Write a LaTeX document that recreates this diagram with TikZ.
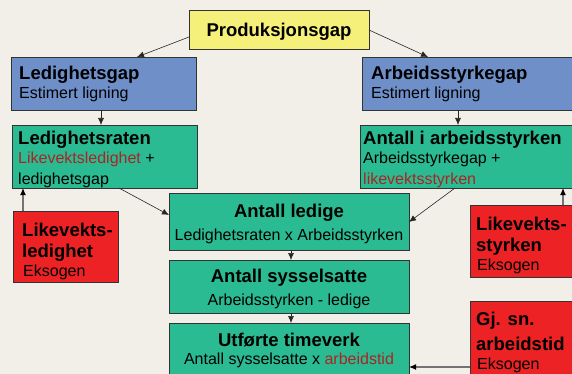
\documentclass[tikz,border=0pt]{standalone}
\usepackage{fontspec}
\setmainfont{Liberation Sans}
\usetikzlibrary{arrows.meta}
\definecolor{bg}{RGB}{242,239,233}
\definecolor{yel}{RGB}{245,240,122}
\definecolor{blu}{RGB}{110,143,200}
\definecolor{grn}{RGB}{42,187,146}
\definecolor{rd}{RGB}{237,34,36}
\definecolor{rtx}{RGB}{170,36,36}
\tikzset{
  box/.style={draw=black!80, line width=0.8pt, anchor=north west, inner sep=0pt, outer sep=0pt},
  ttl/.style={font=\bfseries\fontsize{18.5}{20}\selectfont, inner sep=0pt, anchor=base west},
  sub/.style={font=\fontsize{16}{18}\selectfont, inner sep=0pt, anchor=base west},
  ctl/.style={font=\bfseries\fontsize{18.5}{20}\selectfont, inner sep=0pt, anchor=base},
  csb/.style={font=\fontsize{16}{18}\selectfont, inner sep=0pt, anchor=base},
  arr/.style={-{Latex[length=7pt,width=6pt]}, line width=0.6pt, black!85},
  garr/.style={-{Latex[length=7pt,width=6pt,black]}, line width=1.2pt, black!55}
}
\begin{document}
\begin{tikzpicture}[x=1pt,y=-1pt]
\useasboundingbox (0,0) rectangle (572,374);
\clip (0,0) rectangle (572,374);
\fill[bg] (0,0) rectangle (572,374);
% boxes
\node[box, fill=yel, minimum width=180pt, minimum height=39pt] (prod) at (189,10) {};
\node[box, fill=blu, minimum width=185pt, minimum height=53pt] (lgap) at (11,57) {};
\node[box, fill=blu, minimum width=220pt, minimum height=53pt] (agap) at (362,57) {};
\node[box, fill=grn, minimum width=185pt, minimum height=63pt] (lrate) at (12,125) {};
\node[box, fill=grn, minimum width=220pt, minimum height=63pt] (aant) at (360,125) {};
\node[box, fill=rd, minimum width=105pt, minimum height=71pt] (likl) at (13,211) {};
\node[box, fill=grn, minimum width=240pt, minimum height=57pt] (ledige) at (169,193) {};
\node[box, fill=grn, minimum width=240pt, minimum height=53pt] (syss) at (169,260) {};
\node[box, fill=grn, minimum width=240pt, minimum height=60pt] (time) at (169,323) {};
\node[box, fill=rd, minimum width=110pt, minimum height=72pt] (liks) at (470,205) {};
\node[box, fill=rd, minimum width=110pt, minimum height=80pt] (gjsn) at (470,301) {};
% texts
\node[ctl] (t1) at (279,37) {Produksjonsgap};
\node[ttl] (t2) at (19,80) {Ledighetsgap};
\node[sub] (t3) at (19,99) {Estimert ligning};
\node[ttl] (t4) at (371,80) {Arbeidsstyrkegap};
\node[sub] (t5) at (371,99) {Estimert ligning};
\node[ttl] (t6) at (18,145) {Ledighetsraten};
\node[sub] (t7) at (18,164) {\textcolor{rtx}{Likevektsledighet} +};
\node[sub] (t8) at (18,184) {ledighetsgap};
\node[ttl] (t9) at (363,145) {Antall i arbeidsstyrken};
\node[sub] (t10) at (363,164) {Arbeidsstyrkegap +};
\node[sub] (t11) at (363,184) {\textcolor{rtx}{likevektsstyrken}};
\node[ttl] (t12) at (22,236) {Likevekts-};
\node[ttl] (t13) at (22,257) {ledighet};
\node[sub] (t14) at (23,276) {Eksogen};
\node[ctl] (t15) at (289,217) {Antall ledige};
\node[csb] (t16) at (289,240) {Ledighetsraten x Arbeidsstyrken};
\node[ctl] (t17) at (289,282) {Antall sysselsatte};
\node[csb] (t18) at (289,305) {Arbeidsstyrken - ledige};
\node[ctl] (t19) at (289,346) {Utførte timeverk};
\node[csb] (t20) at (289,364) {Antall sysselsatte x \textcolor{rtx}{arbeidstid}};
\node[ttl] (t21) at (476,230) {Likevekts-};
\node[ttl] (t22) at (476,251) {styrken};
\node[sub] (t23) at (477,270) {Eksogen};
\node[ttl] (t24) at (476,325) {Gj. sn.};
\node[ttl] (t25) at (476,350) {arbeidstid};
\node[sub] (t26) at (477,369) {Eksogen};
% arrows
\draw[arr] (prod.west |- 0,37) -- (lgap.north -| 137,0);
\draw[arr] (prod.east |- 0,30) -- (agap.north -| 428,0);
\draw[arr] (lgap.south -| 101,0) -- (lrate.north -| 101,0);
\draw[arr] (agap.south -| 458,0) -- (aant.north -| 458,0);
\draw[arr] (lrate.south -| 119,0) -- (ledige.west |- 0,215);
\draw[arr] (aant.south -| 455,0) -- (ledige.east |- 0,222);
\draw[garr] (likl.north -| 23,0) -- (lrate.south -| 23,0);
\draw[garr] (liks.north -| 563,0) -- (aant.south -| 563,0);
\draw[arr] (ledige.south -| 291,0) -- (syss.north -| 291,0);
\draw[arr] (syss.south -| 291,0) -- (time.north -| 291,0);
\draw[garr] (gjsn.west |- 0,367) -- (time.east |- 0,367);
\end{tikzpicture}
\end{document}
